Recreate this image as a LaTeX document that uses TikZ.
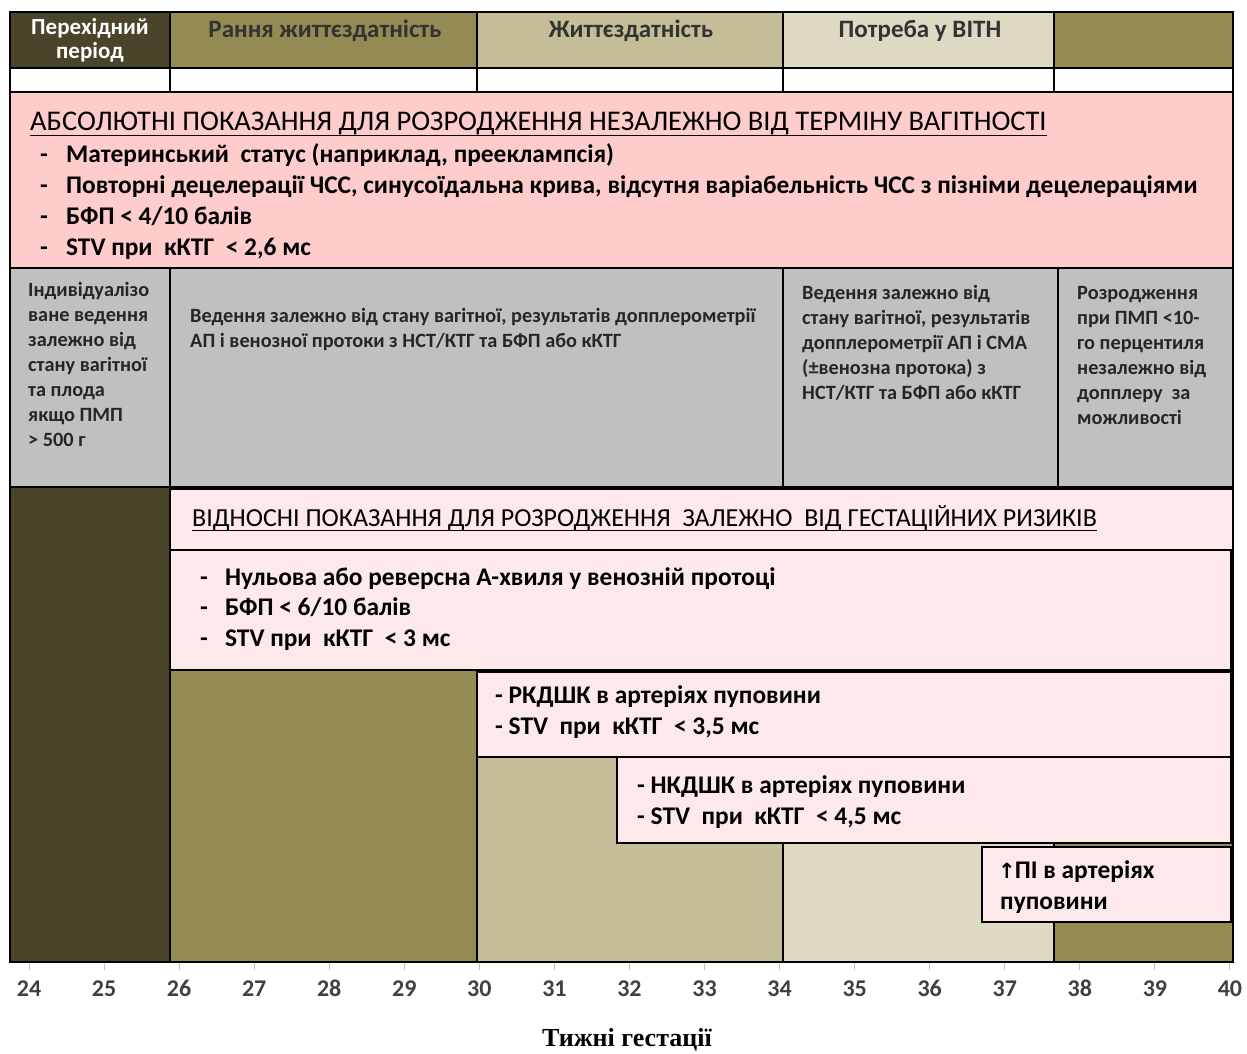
\documentclass[tikz,border=0pt]{standalone}
\usepackage{fontspec}
\setmainfont{Carlito}
\newfontfamily\timesf{Liberation Serif}
\newfontfamily\symf{DejaVu Sans}
\definecolor{cdark}{HTML}{4A452A}
\definecolor{colive}{HTML}{948A54}
\definecolor{ctan}{HTML}{C4BD97}
\definecolor{clight}{HTML}{DDD9C3}
\definecolor{cpinkA}{HTML}{FFCCCC}
\definecolor{cpinkB}{HTML}{FDE9EA}
\definecolor{cgrey}{HTML}{C0C0C0}
\definecolor{caxis}{HTML}{404040}
\tikzset{
  cell/.style={draw=black, line width=1.6pt},
  hdr/.style={anchor=base, inner sep=0pt, font=\bfseries\fontsize{25}{28}\selectfont, text=black!80},
  bigtitle/.style={anchor=base west, inner sep=0pt, font=\fontsize{28.5}{30}\selectfont},
  item/.style={anchor=base west, inner sep=0pt, font=\bfseries\fontsize{25.4}{28}\selectfont},
  gtext/.style={anchor=base west, inner sep=0pt, font=\bfseries\fontsize{20.3}{22}\selectfont, text=black!85},
  axlab/.style={anchor=base, inner sep=0pt, font=\bfseries\fontsize{24}{26}\selectfont, text=caxis},
  uline/.style={line width=1.6pt},
}
\begin{document}
\begin{tikzpicture}[x=1pt,y=-1pt]
\useasboundingbox (0,0) rectangle (1247,1054);
% header row
\draw[cell, fill=cdark] (10,12) rectangle (170,68);
\draw[cell, fill=colive] (170,12) rectangle (477,68);
\draw[cell, fill=ctan] (477,12) rectangle (783,68);
\draw[cell, fill=clight] (783,12) rectangle (1054,68);
\draw[cell, fill=colive] (1054,12) rectangle (1233,68);
% white row
\draw[cell, fill=white] (10,68) rectangle (170,92);
\draw[cell, fill=white] (170,68) rectangle (477,92);
\draw[cell, fill=white] (477,68) rectangle (783,92);
\draw[cell, fill=white] (783,68) rectangle (1054,92);
\draw[cell, fill=white] (1054,68) rectangle (1233,92);
% absolute indications
\draw[cell, fill=cpinkA] (10,92) rectangle (1233,268);
% grey row
\draw[cell, fill=cgrey] (10,268) rectangle (170,487);
\draw[cell, fill=cgrey] (170,268) rectangle (783,487);
\draw[cell, fill=cgrey] (783,268) rectangle (1058,487);
\draw[cell, fill=cgrey] (1058,268) rectangle (1233,487);
% lower area backgrounds
\draw[cell, fill=cdark] (10,487) rectangle (170,962);
\draw[cell, fill=colive] (170,487) rectangle (477,962);
\draw[cell, fill=ctan] (477,670) rectangle (783,962);
\draw[cell, fill=clight] (783,843) rectangle (1054,962);
\draw[cell, fill=colive] (1054,843) rectangle (1233,962);
% relative indications boxes
\draw[cell, fill=cpinkB] (170,489) rectangle (1233,550);
\draw[cell, fill=cpinkB] (170,550) rectangle (1231,670);
\draw[cell, fill=cpinkB] (477,672) rectangle (1231,757);
\draw[cell, fill=cpinkB] (617,757) rectangle (1231,843);
\draw[cell, fill=cpinkB] (982,847) rectangle (1231,922);
% outer frame
\draw[line width=2pt] (10,12) rectangle (1233,962);

% header texts
\node[hdr, text=white, font=\bfseries\fontsize{23}{26}\selectfont] (h1a) at (90,35) {Перехідний};
\node[hdr, text=white, font=\bfseries\fontsize{23}{26}\selectfont] (h1b) at (90,59) {період};
\node[hdr] (h2) at (325,38) {Рання життєздатність};
\node[hdr] (h3) at (631,38) {Життєздатність};
\node[hdr] (h4) at (920,38) {Потреба у ВІТН};

% absolute
\node[bigtitle] (absT) at (30,131) {АБСОЛЮТНІ ПОКАЗАННЯ ДЛЯ РОЗРОДЖЕННЯ НЕЗАЛЕЖНО ВІД ТЕРМІНУ ВАГІТНОСТІ};
\draw[uline] ([yshift=-4.5pt]absT.base west) -- ([yshift=-4.5pt]absT.base east);
\node[item] (ad1) at (40,162) {-};
\node[item] (ad2) at (40,193) {-};
\node[item] (ad3) at (40,224) {-};
\node[item] (ad4) at (40,255) {-};
\node[item] (a1) at (66,162) {Материнський\ \ статус (наприклад, прееклампсія)};
\node[item] (a2) at (66,193) {Повторні децелерації ЧСС, синусоїдальна крива, відсутня варіабельність ЧСС з пізніми децелераціями};
\node[item] (a3) at (66,224) {БФП < 4/10 балів};
\node[item] (a4) at (66,255) {STV при\ \ кКТГ\ \ < 2,6 мс};

% grey row texts
\node[gtext] (g1a) at (28,296) {Індивідуалізо};
\node[gtext] (g1b) at (28,321) {ване ведення};
\node[gtext] (g1c) at (28,346) {залежно від};
\node[gtext] (g1d) at (28,371) {стану вагітної};
\node[gtext] (g1e) at (28,396) {та плода};
\node[gtext] (g1f) at (28,421) {якщо ПМП};
\node[gtext] (g1g) at (28,446) {> 500 г};
\node[gtext] (g2a) at (190,322) {Ведення залежно від стану вагітної, результатів допплерометрії};
\node[gtext] (g2b) at (190,347) {АП і венозної протоки з НСТ/КТГ та БФП або кКТГ};
\node[gtext] (g3a) at (802,299) {Ведення залежно від};
\node[gtext] (g3b) at (802,324) {стану вагітної, результатів};
\node[gtext] (g3c) at (802,349) {допплерометрії АП і СМА};
\node[gtext] (g3d) at (802,374) {(±венозна протока) з};
\node[gtext] (g3e) at (802,399) {НСТ/КТГ та БФП або кКТГ};
\node[gtext] (g4a) at (1077,299) {Розродження};
\node[gtext] (g4b) at (1077,324) {при ПМП <10-};
\node[gtext] (g4c) at (1077,349) {го перцентиля};
\node[gtext] (g4d) at (1077,374) {незалежно від};
\node[gtext] (g4e) at (1077,399) {допплеру\ \ за};
\node[gtext] (g4f) at (1077,424) {можливості};

% relative
\node[anchor=base west, inner sep=0pt, font=\fontsize{26}{28}\selectfont] (relT) at (192,526) {ВІДНОСНІ ПОКАЗАННЯ ДЛЯ РОЗРОДЖЕННЯ\ \ ЗАЛЕЖНО\ \ ВІД ГЕСТАЦІЙНИХ РИЗИКІВ};
\draw[uline] ([yshift=-4.5pt]relT.base west) -- ([yshift=-4.5pt]relT.base east);
\node[item] (rd1) at (200,585) {-};
\node[item] (rd2) at (200,615) {-};
\node[item] (rd3) at (200,646) {-};
\node[item] (r1) at (225,585) {Нульова або реверсна А-хвиля у венозній протоці};
\node[item] (r2) at (225,615) {БФП < 6/10 балів};
\node[item] (r3) at (225,646) {STV при\ \ кКТГ\ \ < 3 мс};
\node[item] (b3a) at (495,703) {- РКДШК в артеріях пуповини};
\node[item] (b3b) at (495,734) {- STV\ \ при\ \ кКТГ\ \ < 3,5 мс};
\node[item] (b4a) at (637,793) {- НКДШК в артеріях пуповини};
\node[item] (b4b) at (637,824) {- STV\ \ при\ \ кКТГ\ \ < 4,5 мс};
\node[item] (b5a) at (998,878) {{\symf\bfseries\fontsize{21}{24}\selectfont ↑}\kern-1ptПІ в артеріях};
\node[item] (b5b) at (1000,909) {пуповини};

% axis
\foreach \w [count=\i] in {24,...,40} {
  \draw[gray!50, line width=1pt] ({29+(\w-24)*75.06},963) -- ({29+(\w-24)*75.06},970);
  \node[axlab] (ax\i) at ({29+(\w-24)*75.06},996) {\w};
}
\node[anchor=base, inner sep=0pt, font=\timesf\bfseries\fontsize{26}{28}\selectfont] (xt) at (627,1046) {Тижні гестації};
\end{tikzpicture}
\end{document}
